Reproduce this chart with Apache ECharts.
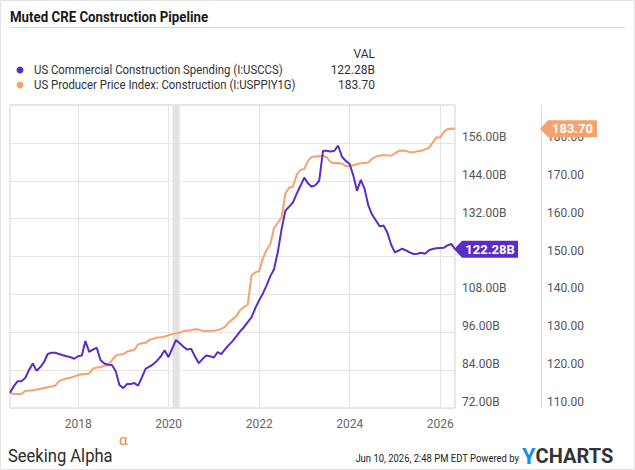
<!DOCTYPE html>
<html>
<head>
<meta charset="utf-8">
<script src="https://cdn.jsdelivr.net/npm/echarts@6/dist/echarts.min.js"></script>
<style>
  html, body { margin: 0; padding: 0; background: #fff; }
  #chart { width: 635px; height: 470px; }
</style>
</head>
<body>
<div id="chart"></div>
<script>
// month-end points, Jun 2016 .. Apr 2026
const START_YEAR = 2016;
const START_MONTH = 6;

// US Commercial Construction Spending (billions)
const spending = [
  76.8, 78.9, 80.5, 80.5, 81.5, 84.0, 86.1,
  83.8, 84.9, 86.5, 89.1, 89.5, 89.5, 89.1, 88.7, 88.4, 88.1, 87.6, 88.4,
  88.6, 93.2, 89.8, 90.5, 91.1, 87.2, 86.1, 85.7, 85.6, 83.7, 79.3, 78.3,
  79.6, 79.6, 79.9, 79.1, 81.8, 84.5, 85.1, 85.9, 87.0, 88.4, 90.3, 88.1,
  90.9, 93.5, 92.5, 91.4, 90.5, 90.8, 88.4, 86.2, 87.5, 88.6, 88.4, 88.0,
  89.7, 89.1, 90.6, 91.9, 93.2, 94.7, 96.3, 97.6, 99.2, 100.7, 103.6, 106.1,
  108.3, 110.7, 113.7, 115.9, 121.4, 128.5, 134.5, 135.8, 137.1, 139.9, 142.4, 145.0,
  143.1, 142.1, 142.6, 144.0, 153.5, 153.5, 153.3, 153.5, 155.1, 151.6, 150.3, 149.4,
  145.6, 140.8, 144.3, 141.5, 136.1, 133.3, 131.4, 129.5, 129.8, 127.6, 123.8, 121.3,
  121.9, 122.5, 121.9, 121.3, 120.8, 120.9, 121.2, 120.9, 121.9, 122.4, 122.6, 122.7,
  122.8, 123.5, 124.0, 122.28
];

// US Producer Price Index: Construction
const ppi = [
  114.0, 113.7, 113.7, 113.7, 114.5, 114.6, 114.7,
  114.9, 115.0, 115.3, 115.5, 115.7, 115.9, 117.1, 117.5, 117.8, 118.0, 118.3, 118.7,
  118.9, 119.0, 119.1, 120.4, 120.7, 120.8, 121.1, 121.4, 122.6, 123.8, 124.1, 124.2,
  124.9, 125.1, 125.3, 126.8, 127.1, 127.2, 128.0, 128.3, 128.6, 128.7, 128.9, 129.2,
  129.5, 129.7, 129.9, 130.3, 130.4, 130.5, 130.8, 130.7, 130.4, 130.3, 130.4, 130.4,
  130.5, 130.9, 131.4, 132.6, 133.4, 134.2, 135.8, 136.7, 137.2, 145.0, 145.8, 146.1,
  149.5, 151.6, 153.2, 157.4, 158.9, 160.3, 166.6, 168.2, 168.4, 171.6, 172.9, 173.1,
  175.3, 176.3, 176.4, 176.5, 176.6, 176.2, 174.9, 174.6, 174.7, 174.5, 173.9, 173.9,
  174.1, 174.4, 174.6, 174.7, 174.8, 175.8, 176.4, 176.6, 176.8, 176.7, 176.6, 177.2,
  177.9, 178.0, 177.9, 177.5, 177.5, 177.8, 177.9, 178.3, 178.6, 180.0, 181.4, 181.4,
  182.9, 183.6, 183.8, 183.7
];

const yearTicks = [2018, 2020, 2022, 2024, 2026];
const recession = [[2020, 1, 1], [2020, 2, 31]]; // Feb 1 .. Mar 31, 2020
const hiddenLeftLabels = [120]; // sits under the value tag

const PURPLE = '#5b2dc2';
const ORANGE = '#f6a26c';
const FONT = 'Roboto, "Noto Sans", sans-serif';

const dates = spending.map((_, i) => new Date(START_YEAR, START_MONTH + i, 0).getTime());
const lastIdx = spending.length - 1;
const tickTimes = yearTicks.map((y) => new Date(y, 0, 1).getTime());
const recessionTimes = recession.map((d) => new Date(d[0], d[1], d[2]).getTime());

const GRID = { left: 10, top: 105, width: 445, height: 303 };
const RIGHT_OFFSET = 86;

const chart = echarts.init(document.getElementById('chart'), null, { renderer: 'svg' });

chart.setOption({
  animation: false,
  textStyle: { fontFamily: FONT },
  grid: { ...GRID, show: true, borderColor: '#cfcfcf', borderWidth: 1, containLabel: false },
  xAxis: {
    type: 'value',
    min: dates[0],
    max: dates[lastIdx],
    axisLine: { show: false },
    axisTick: { show: false, customValues: tickTimes },
    axisLabel: {
      customValues: tickTimes,
      formatter: (v) => String(new Date(v).getFullYear()),
      color: '#666',
      fontSize: 12,
      margin: 10,
    },
    splitLine: { show: true, lineStyle: { color: '#e4e4e4', width: 1 } },
  },
  yAxis: [
    {
      type: 'value',
      position: 'right',
      min: 72,
      max: 168,
      interval: 12,
      axisLine: { show: false },
      axisTick: { show: false },
      axisLabel: {
        formatter: (v) => (hiddenLeftLabels.includes(v) ? '' : v.toFixed(2) + 'B'),
        showMaxLabel: false,
        verticalAlign: 'bottom',
        color: '#555',
        fontSize: 12,
        margin: 7,
      },
      splitLine: { lineStyle: { color: '#e4e4e4', width: 1 } },
    },
    {
      type: 'value',
      position: 'right',
      offset: RIGHT_OFFSET,
      min: 110,
      max: 190,
      interval: 10,
      axisLine: { show: true, lineStyle: { color: '#dcdcdc', width: 1 } },
      axisTick: { show: false },
      axisLabel: {
        formatter: (v) => v.toFixed(2),
        showMaxLabel: false,
        verticalAlign: 'bottom',
        color: '#555',
        fontSize: 12,
        margin: 6,
      },
      splitLine: { show: false },
    },
  ],
  series: [
    {
      name: 'US Producer Price Index: Construction (I:USPPIY1G)',
      type: 'line',
      yAxisIndex: 1,
      data: dates.map((d, i) => [d, ppi[i]]),
      showSymbol: false,
      lineStyle: { color: ORANGE, width: 2 },
      itemStyle: { color: ORANGE },
      z: 2,
      markArea: {
        silent: true,
        itemStyle: { color: '#e3e3e3' },
        data: [[{ xAxis: recessionTimes[0] }, { xAxis: recessionTimes[1] }]],
      },
    },
    {
      name: 'US Commercial Construction Spending (I:USCCS)',
      type: 'line',
      yAxisIndex: 0,
      data: dates.map((d, i) => [d, spending[i]]),
      showSymbol: false,
      lineStyle: { color: PURPLE, width: 2 },
      itemStyle: { color: PURPLE },
      z: 3,
    },
  ],
});

// value tags at the right, placed through the axes' own scales
const purpleY = chart.convertToPixel({ yAxisIndex: 0 }, spending[lastIdx]);
const orangeY = chart.convertToPixel({ yAxisIndex: 1 }, ppi[lastIdx]);
const gridRight = GRID.left + GRID.width;

function tag(x, y, w, color, text) {
  return {
    type: 'group',
    x: x,
    y: y,
    z: 100,
    children: [
      {
        type: 'polygon',
        shape: { points: [[0, 0], [8, -8.5], [w, -8.5], [w, 8.5], [8, 8.5]] },
        style: { fill: color },
        z: 100,
      },
      {
        type: 'text',
        x: (w + 8) / 2,
        y: 0,
        z: 101,
        style: {
          text: text,
          fill: '#fff',
          font: 'bold 13px ' + FONT,
          textAlign: 'center',
          textVerticalAlign: 'middle',
        },
      },
    ],
  };
}

chart.setOption({
  graphic: [
    {
      type: 'rect',
      shape: { x: 0.5, y: 0.5, width: 634, height: 469 },
      style: { fill: 'none', stroke: '#e2e2e2', lineWidth: 1 },
      silent: true,
    },
    {
      type: 'text',
      x: 10,
      y: 17,
      scaleX: 0.885,
      style: {
        text: 'Muted CRE Construction Pipeline',
        font: 'bold 15px ' + FONT,
        fill: '#1a1a1a',
        textVerticalAlign: 'middle',
      },
    },
    {
      type: 'line',
      shape: { x1: 10, y1: 27.5, x2: 625, y2: 27.5 },
      style: { stroke: '#d4d4d4', lineWidth: 1 },
    },
    {
      type: 'text',
      x: 375,
      y: 54,
      style: { text: 'VAL', font: '12px ' + FONT, fill: '#333', textAlign: 'right', textVerticalAlign: 'middle' },
    },
    { type: 'circle', shape: { cx: 20, cy: 70, r: 3.5 }, style: { fill: PURPLE } },
    {
      type: 'text',
      x: 34,
      y: 70,
      scaleX: 0.95,
      style: {
        text: 'US Commercial Construction Spending (I:USCCS)',
        font: '12px ' + FONT,
        fill: '#333',
        textVerticalAlign: 'middle',
      },
    },
    {
      type: 'text',
      x: 375,
      y: 70,
      style: { text: spending[lastIdx].toFixed(2) + 'B', font: '12px ' + FONT, fill: '#333', textAlign: 'right', textVerticalAlign: 'middle' },
    },
    { type: 'circle', shape: { cx: 20, cy: 85, r: 3.5 }, style: { fill: ORANGE } },
    {
      type: 'text',
      x: 34,
      y: 85,
      scaleX: 0.95,
      style: {
        text: 'US Producer Price Index: Construction (I:USPPIY1G)',
        font: '12px ' + FONT,
        fill: '#333',
        textVerticalAlign: 'middle',
      },
    },
    {
      type: 'text',
      x: 375,
      y: 85,
      style: { text: ppi[lastIdx].toFixed(2), font: '12px ' + FONT, fill: '#333', textAlign: 'right', textVerticalAlign: 'middle' },
    },
    tag(gridRight - 1, purpleY, 64, PURPLE, spending[lastIdx].toFixed(2) + 'B'),
    tag(gridRight + RIGHT_OFFSET - 1, orangeY, 57, ORANGE, ppi[lastIdx].toFixed(2)),
    {
      type: 'text',
      x: 8,
      y: 456,
      scaleX: 0.92,
      style: {
        text: 'Seeking Alpha',
        font: '18px ' + FONT,
        fill: '#2b2b2b',
        textVerticalAlign: 'middle',
      },
    },
    {
      type: 'text',
      x: 119,
      y: 440,
      style: { text: 'α', font: '15px ' + FONT, fill: '#f28a2e', textVerticalAlign: 'middle' },
    },
    {
      type: 'text',
      x: 519,
      y: 458,
      scaleX: 0.86,
      style: {
        text: 'Jun 10, 2026, 2:48 PM EDT Powered by',
        font: '11px ' + FONT,
        fill: '#222',
        textAlign: 'right',
        textVerticalAlign: 'middle',
      },
    },
    {
      type: 'text',
      x: 522,
      y: 456,
      style: {
        text: '{y|Y}{c|CHARTS}',
        textVerticalAlign: 'middle',
        rich: {
          y: { font: 'bold 22px ' + FONT, fill: '#1d8fe6' },
          c: { font: 'bold 20px ' + FONT, fill: '#333' },
        },
      },
    },
  ],
});
</script>
</body>
</html>
